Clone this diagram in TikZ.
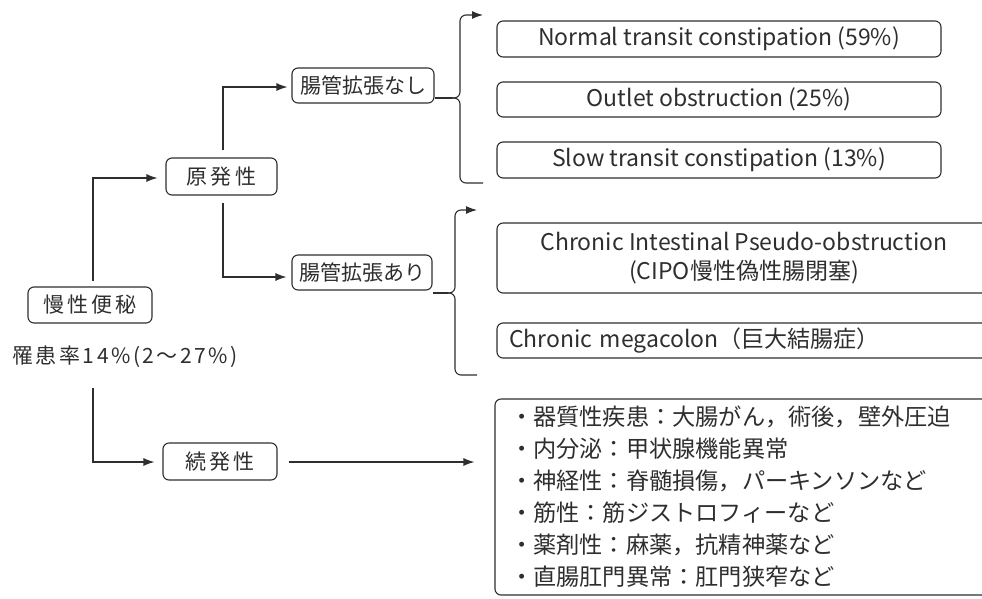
\documentclass[tikz,border=0pt]{standalone}
\usepackage{fontspec}
\setmainfont{Noto Sans CJK JP}
\newfontfamily\jpwide[LetterSpace=15]{Noto Sans CJK JP}
\newfontfamily\jpmid[LetterSpace=12]{Noto Sans CJK JP}
\usetikzlibrary{arrows.meta}
\definecolor{ink}{gray}{0.18}
\tikzset{
  box/.style={draw=ink, line width=1.1pt, rounded corners=6pt, text=ink, inner sep=0pt, align=center},
  jp/.style={font=\fontsize{21}{24}\selectfont},
  jpw/.style={font=\jpwide\fontsize{21}{24}\selectfont},
  en/.style={font=\fontsize{23}{29}\selectfont},
  conn/.style={draw=ink, line width=1.1pt},
  arr/.style={conn, -{Latex[length=11pt,width=8pt]}},
}
\begin{document}
\begin{tikzpicture}[x=1pt,y=-1pt]
\useasboundingbox (0,0) rectangle (982,598);
\clip (0,0) rectangle (982,598);
% left column
\node[box, jpw, minimum width=124pt, minimum height=36pt] (mansei) at (90,305) {慢性便秘};
\node[text=ink, font=\jpmid\fontsize{21}{24}\selectfont, inner sep=0pt] (riken) at (125,357) {罹患率14\%(2〜27\%)};
\node[box, jpw, minimum width=111pt, minimum height=37pt] (gen) at (221.5,176.5) {原発性};
\node[box, jpw, minimum width=114pt, minimum height=37pt] (zoku) at (220,461.5) {続発性};
\node[box, jp, minimum width=142pt, minimum height=35pt] (nashi) at (363,85.5) {腸管拡張なし};
\node[box, jp, minimum width=140pt, minimum height=35pt] (ari) at (362,272.5) {腸管拡張あり};
% right column
\node[box, en, minimum width=444pt, minimum height=36pt] (normal) at (719,39) {Normal transit constipation (59\%)};
\node[box, en, minimum width=444pt, minimum height=35pt] (outlet) at (719,99.5) {Outlet obstruction (25\%)};
\node[box, en, minimum width=444pt, minimum height=36pt] (slow) at (719,160) {Slow transit constipation (13\%)};
\node[box, en, minimum width=494pt, minimum height=70pt] (cipo) at (744,258) {Chronic Intestinal Pseudo-obstruction\\(CIPO慢性偽性腸閉塞)};
\node[box, en, minimum width=494pt, minimum height=35pt, text width=470pt, align=left] (mega) at (744,340.5) {Chronic megacolon（巨大結腸症）};
\node[box, font=\fontsize{23.2}{32}\selectfont, minimum width=500pt, minimum height=196pt, text width=470pt, align=left] (list) at (745,497) {・器質性疾患：大腸がん，術後，壁外圧迫\\・内分泌：甲状腺機能異常\\・神経性：脊髄損傷，パーキンソンなど\\・筋性：筋ジストロフィーなど\\・薬剤性：麻薬，抗精神薬など\\・直腸肛門異常：肛門狭窄など};
% connectors
\draw[arr, shorten <=5pt, shorten >=8pt] (mansei.north -| 93,0) |- (gen.west |- 0,178);
\draw[arr, shorten <=20pt, shorten >=8pt] (riken.south -| 93,0) |- (zoku.west |- 0,462);
\draw[arr, shorten <=7pt, shorten >=4pt] (gen.north -| 223,0) |- (nashi.west |- 0,87);
\draw[arr, shorten <=7pt, shorten >=5pt] (gen.south -| 223,0) |- (ari.west |- 0,277);
\draw[arr, shorten <=11pt, shorten >=20pt] (zoku.east |- 0,462) -- (list.west |- 0,462);
% brace 1
\coordinate (c1) at (452,98);
\coordinate (t1) at (483,15);
\coordinate (b1) at (483,183);
\draw[conn] (nashi.east |- 0,98) -- (c1);
\draw[conn, rounded corners=6pt] (b1) -- (460,183) -- (460,98) -- (c1);
\draw[arr, rounded corners=6pt] (c1) -- (460,98) -- (460,15) -- (t1);
% brace 2
\coordinate (c2) at (448,293);
\coordinate (t2) at (477,210);
\coordinate (b2) at (477,375);
\draw[conn] (ari.east |- 0,293) -- (c2);
\draw[conn, rounded corners=6pt] (b2) -- (455,375) -- (455,293) -- (c2);
\draw[arr, rounded corners=6pt] (c2) -- (455,293) -- (455,210) -- (t2);
\end{tikzpicture}
\end{document}
